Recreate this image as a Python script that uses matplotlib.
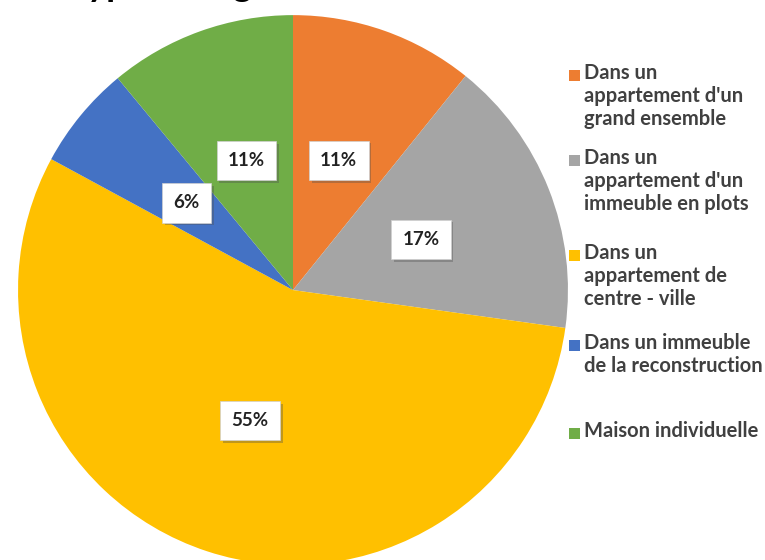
import matplotlib
matplotlib.use("Agg")
import matplotlib.pyplot as plt
import matplotlib.patheffects as pe
from matplotlib.patches import Rectangle

# ---- data ----
labels = [
    "Dans un\nappartement d'un\ngrand ensemble",
    "Dans un\nappartement d'un\nimmeuble en plots",
    "Dans un\nappartement de\ncentre - ville",
    "Dans un immeuble\nde la reconstruction",
    "Maison individuelle",
]
values = [10.8, 16.4, 55.7, 6.1, 11.0]
pct_labels = ["11%", "17%", "55%", "6%", "11%"]
colors = ["#ED7D31", "#A5A5A5", "#FFC000", "#4472C4", "#70AD47"]
title = "Le type de logement"

plt.rcParams["font.family"] = ["Lato", "DejaVu Sans"]

fig = plt.figure(figsize=(7.65, 5.6), dpi=100)
ax = fig.add_axes([0.0235, -0.009, 0.719, 0.982])

wedges, texts = ax.pie(
    values, colors=colors, startangle=90, counterclock=False,
    labels=pct_labels, labeldistance=0.5,
    textprops=dict(fontsize=13.5, fontweight="bold", color="#222222"),
)
for t in texts:
    t.set_ha("center")
    t.set_va("center")
    t.set_bbox(dict(boxstyle="square,pad=0.6", facecolor="white",
                    edgecolor="#d0d0d0", linewidth=0.5))
    t.get_bbox_patch().set_path_effects(
        [pe.SimplePatchShadow(offset=(2, -2), alpha=0.35), pe.Normal()])
ax.set_xlim(-1, 1)
ax.set_ylim(-1, 1)
ax.set_aspect("equal")
ax.axis("off")

# title, mostly cut off by the top edge
fig.text(0.035, 1.008, title, fontsize=26, fontweight="bold",
         color="black", va="baseline", ha="left")

# legend drawn by hand (uneven spacing)
legend_y = [75, 160, 255, 345, 433]
for lab, col, yp in zip(labels, colors, legend_y):
    fy = 1 - yp / 560
    fig.add_artist(Rectangle((569 / 765, fy - 6 / 560), 11 / 765, 11 / 560,
                             transform=fig.transFigure, facecolor=col,
                             edgecolor="none"))
    fig.text(584 / 765, fy + 12 / 560, lab, fontsize=14.5, fontweight="bold",
             color="#404040", va="top", ha="left", linespacing=1.2)

fig.savefig("out.png", dpi=100)
